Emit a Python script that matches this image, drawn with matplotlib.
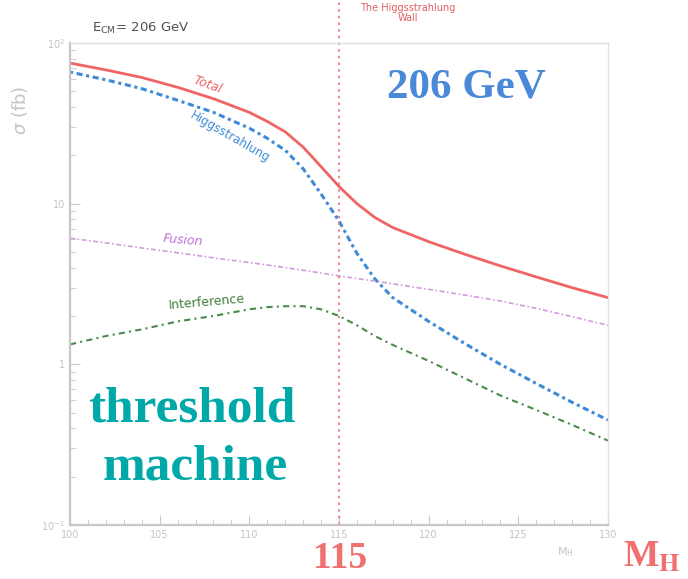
import matplotlib
matplotlib.use("Agg")
import matplotlib.pyplot as plt
from matplotlib.ticker import FixedLocator, NullFormatter, LogLocator
import matplotlib.transforms as mtransforms

mass = [100, 102, 104, 106, 108, 110, 111, 112, 113, 114, 115, 116, 117, 118, 120, 122, 124, 126, 128, 130]
total = [75, 68, 61, 53, 45, 37, 32.5, 28, 22.5, 17, 12.8, 10, 8.2, 7.1, 5.8, 4.85, 4.1, 3.5, 3.0, 2.6]
higgsstrahlung = [66, 59, 52, 44, 37, 29.5, 25.5, 21.5, 16.5, 11.5, 7.8, 4.9, 3.4, 2.6, 1.85, 1.35, 1.0, 0.76, 0.58, 0.45]
fusion = [6.1, 5.7, 5.3, 4.95, 4.6, 4.3, 4.15, 4.0, 3.85, 3.7, 3.55, 3.42, 3.3, 3.17, 2.93, 2.7, 2.48, 2.23, 1.98, 1.75]
interference = [1.33, 1.5, 1.65, 1.85, 2.0, 2.2, 2.27, 2.3, 2.3, 2.2, 2.0, 1.75, 1.5, 1.32, 1.05, 0.82, 0.64, 0.52, 0.42, 0.335]
xticks = [100, 105, 110, 115, 120, 125, 130]
wall_mass = 115

fig = plt.figure(figsize=(6.88, 5.79), dpi=100)
ax = fig.add_axes([70/688, 1-525/579, (608-70)/688, (525-43)/579])
ax.set_yscale('log')
ax.set_xlim(100, 130)
ax.set_ylim(0.1, 100)

c_tot = '#f06464'
c_hz = '#3d8ad8'
c_fus = '#d49ae0'
c_int = '#4a8a4a'

ax.plot(mass, total, color=c_tot, lw=2.0, solid_capstyle='round')
ax.plot(mass, higgsstrahlung, color=c_hz, lw=2.2, linestyle=(0, (1.0, 1.2, 2.0, 1.2)))
ax.plot(mass, fusion, color=c_fus, lw=1.2, linestyle=(0, (3, 1.5, 1, 1.5)))
ax.plot(mass, interference, color=c_int, lw=1.5, linestyle=(0, (3, 2, 1, 2)))

trans = mtransforms.blended_transform_factory(ax.transData, ax.transAxes)
ax.plot([wall_mass, wall_mass], [0, 1 + 43/482], transform=trans, clip_on=False,
        color='#f07070', lw=1.2, linestyle=(0, (1.5, 2.5)))

gray = '#c4c4c4'
for s in ax.spines.values():
    s.set_color('#e0e0e0')
    s.set_linewidth(1.0)
ax.spines['left'].set_color('#c8c8c8')
ax.spines['bottom'].set_color('#c8c8c8')
ax.spines['left'].set_linewidth(1.6)
ax.spines['bottom'].set_linewidth(1.6)

ax.xaxis.set_major_locator(FixedLocator(xticks))
ax.set_xticklabels([str(t) for t in xticks], fontsize=7, color=gray)
ax.xaxis.set_minor_locator(FixedLocator([x for x in range(100, 131) if x % 5 != 0]))
ax.yaxis.set_minor_locator(LogLocator(base=10, subs=range(2, 10), numticks=20))
ax.yaxis.set_minor_formatter(NullFormatter())
ax.set_yticks([0.1, 1, 10, 100])
ax.set_yticklabels([r'$10^{-1}$', '1', '10', r'$10^{2}$'], fontsize=7, color=gray)
ax.tick_params(which='both', direction='in', color='#c8c8c8', top=False, right=False)
ax.tick_params(which='major', length=7)
ax.tick_params(which='minor', length=4)

ax.set_ylabel(r'$\sigma$ (fb)', color=gray, fontsize=13)
ax.yaxis.set_label_coords(-0.075, 0.86)

fig.text(92/688, 1-28/579, r'E$_{\mathrm{CM}}$= 206 GeV', fontsize=9.5, color='#505050', ha='left', va='center')
fig.text(408/688, 1-13/579, 'The Higgsstrahlung\nWall', fontsize=7, color='#e06060',
         ha='center', va='center', linespacing=1.1)

ax.text(107.7, 55, 'Total', color=c_tot, fontsize=9, rotation=-20, style='italic', ha='center', va='center')
ax.text(108.9, 26, 'Higgsstrahlung', color=c_hz, fontsize=8.5, rotation=-30, ha='center', va='center')
ax.text(106.3, 5.9, 'Fusion', color='#c070d8', fontsize=9, rotation=-5, style='italic', ha='center', va='center')
ax.text(107.6, 2.45, 'Interference', color='#3f7f3f', fontsize=9, rotation=5, ha='center', va='center')

serif = ['Liberation Serif', 'DejaVu Serif']
fig.text(466/688, 1-88/579, '206 GeV', family=serif, fontweight='bold', fontsize=31,
         color='#4a88d8', ha='center', va='center')
fig.text(192/688, 1-410/579, 'threshold', family=serif, fontweight='bold', fontsize=37,
         color='#00a8a8', ha='center', va='center')
fig.text(195/688, 1-468/579, 'machine', family=serif, fontweight='bold', fontsize=37,
         color='#00a8a8', ha='center', va='center')
fig.text(340/688, 1-559/579, '115', family=serif, fontweight='bold', fontsize=27,
         color='#f07070', ha='center', va='center')
fig.text(652/688, 1-557/579, r'M$_{\mathbf{H}}$', family=serif, fontweight='bold', fontsize=27,
         color='#f07070', ha='center', va='center', math_fontfamily='stix')
fig.text(565/688, 1-552/579, r'M$_{\rm H}$', fontsize=8, color=gray, ha='center', va='center')

fig.savefig('out.png', dpi=100)
